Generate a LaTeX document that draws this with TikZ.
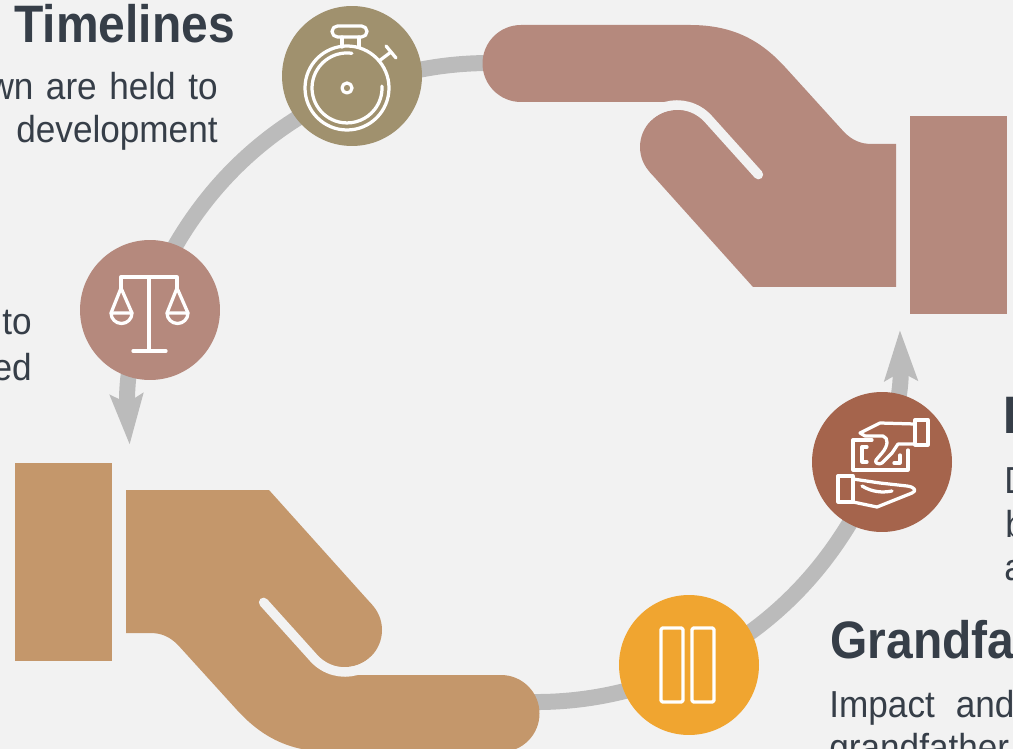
\documentclass[tikz,border=0pt]{standalone}
\usepackage{fontspec}
\setmainfont{Liberation Sans}
\newfontfamily\headfont{Liberation Sans}[FakeStretch=0.91]
\newfontfamily\bodyfont{Liberation Sans}[FakeStretch=0.935]
\usetikzlibrary{arrows.meta}

\definecolor{paper}{HTML}{F2F2F2}
\definecolor{track}{HTML}{BBBBBB}
\definecolor{rose}{HTML}{B5897D}
\definecolor{tan}{HTML}{C4976B}
\definecolor{khaki}{HTML}{A0916E}
\definecolor{rust}{HTML}{A5644C}
\definecolor{amber}{HTML}{F0A530}
\definecolor{ink}{HTML}{363E48}

% one open hand with its cuff, fingers pointing left
\newcommand{\hand}[1]{%
  \fill[#1] (521,25) -- (690,25) .. controls (735,25) and (762,42) .. (785,67)
    -- (844,132) .. controls (852,140) and (860,144) .. (872,144) -- (896,144)
    -- (896,287) -- (753,287) -- (649.5,171.8) -- (677,147) -- (677,102)
    -- (521,102) -- cycle;
  \fill[#1] (521,63.5) circle[radius=38.5];
  \fill[#1] (677,147) circle[radius=37];
  \draw[paper, line width=0.19cm, line cap=round] (647.3,117.3)
    arc[start angle=225, end angle=318, radius=42] -- ++(48:75);
  \fill[#1] (910,116) rectangle (1007,314);
}

\begin{document}
\begin{tikzpicture}[x=0.02cm, y=-0.02cm]
  \tikzstyle{badge}=[circle, inner sep=0, minimum size=2.8cm]
  \tikzstyle{icon}=[draw=white, line width=0.065cm, line cap=round, line join=round]
  \tikzstyle{head}=[inner sep=0, text=ink, font=\headfont\bfseries\fontsize{30}{36}\selectfont]
  \tikzstyle{body}=[inner sep=0, text=ink, font=\bodyfont\fontsize{21.4}{26}\selectfont]
  \tikzstyle{track}=[draw=track, line width=0.32cm, -{Stealth[length=1cm, width=0.64cm, inset=0.16cm]}]

  \useasboundingbox (0,0) rectangle (1013,749);
  \clip (0,0) rectangle (1013,749);
  \fill[paper] (0,0) rectangle (1013,749);

  % the two arcs of the cycle
  \draw[track] (551.5,68.5) arc[start angle=280, end angle=176.5, radius=360];
  \draw[track] (472.8,696.5) arc[start angle=100, end angle=-1.3, radius=364];

  % hands
  \hand{rose}
  \begin{scope}[rotate around={180:(511,388.5)}]
    \hand{tan}
  \end{scope}

  % badges
  \node[badge, fill=khaki] (watch) at (352,76) {};
  \node[badge, fill=rose] (scales) at (150,310) {};
  \node[badge, fill=rust] (money) at (882,462) {};
  \node[badge, fill=amber] (pause) at (689,665) {};

  % stopwatch
  \begin{scope}[shift={(watch.center)}]
    \draw[icon] (-5,12) circle[radius=42];
    \draw[icon] (-0.1,-22.7) arc[start angle=278, end angle=-3, radius=35];
    \draw[icon] (-5,12) circle[radius=5];
    \draw[icon, rounded corners=0.11cm] (-20,-50) rectangle (15,-39);
    \draw[icon] (-10,-39) -- (-10,-29);
    \draw[icon] (7,-39) -- (7,-29);
    \draw[icon] (27,-15) -- (39,-24);
    \draw[icon] (34,-30) -- (44,-18);
  \end{scope}

  % scales
  \begin{scope}[shift={(scales.center)}]
    \draw[icon] (-1,-33) -- (-1,41);
    \draw[icon] (-17,41) -- (16,41);
    \draw[icon] (-29,-22) -- (-29,-33) -- (27,-33) -- (27,-22);
    \draw[icon] (-39,3) -- (-29,-22) -- (-18,3);
    \draw[icon] (-39,3) -- (-18,3) arc[start angle=0, end angle=180, radius=10.5];
    \draw[icon] (17,3) -- (27,-22) -- (38,3);
    \draw[icon] (17,3) -- (38,3) arc[start angle=0, end angle=180, radius=10.5];
  \end{scope}

  % money changing hands
  \begin{scope}[shift={(money.center)}]
    \draw[icon] (33,-42) rectangle (46,-17);
    \draw[icon] (33,-38) -- (-2,-39) -- (-22,-29) -- (-17,-26) -- (1,-26)
      .. controls (7,-24) and (6,-16) .. (0,-9) -- (-6,-2)
      .. controls (-8,1) and (-3,3) .. (0,1) -- (10,-9) -- (16,-18) -- (33,-18);
    \draw[icon] (-10,-22) -- (-29,-22) -- (-29,8) -- (26,8) -- (26,-12);
    \draw[icon] (-15,-15) -- (-20,-15) -- (-20,0) -- (-15,0);
    \draw[icon] (12,1) -- (18,1) -- (18,-7);
    \draw[icon] (-44,14) rectangle (-29,40);
    \draw[icon] (-29,17) -- (-2,21) -- (25,24) .. controls (33,25) and (35,29) .. (30,31)
      -- (-5,45) -- (-29,40);
    \draw[icon] (-20,24) .. controls (-10,30) and (0,31) .. (10,29);
  \end{scope}

  % pause
  \begin{scope}[shift={(pause.center)}]
    \draw[icon, rounded corners=0.03cm] (-28,-37) rectangle (-6,37);
    \draw[icon, rounded corners=0.03cm] (3,-37) rectangle (25,37);
  \end{scope}

  % texts
  \node[head, anchor=base west] (tl) at (14,43) {Timelines};
  \node[body, anchor=base east] (tl1) at (218,100) {\makebox[130.4pt][s]{wn are held to}};
  \node[body, anchor=base east] (tl2) at (218,143) {development};

  \node[body, anchor=base east] (lt1) at (32,335) {to};
  \node[body, anchor=base east] (lt2) at (32,380) {ed};

  \node[head, anchor=base west] (rt) at (1003,433) {P};
  \node[body, anchor=base west] (rt1) at (1004,493) {D};
  \node[body, anchor=base west] (rt2) at (1005,537) {b};
  \node[body, anchor=base west] (rt3) at (1004,580) {a};

  \node[head, anchor=base west] (gf) at (830,658) {Grandfa};
  \node[body, anchor=base west] (gf1) at (829,717) {\makebox[105.4pt][s]{Impact and}};
  \node[body, anchor=base west] (gf2) at (829,760) {grandfather};
\end{tikzpicture}
\end{document}
